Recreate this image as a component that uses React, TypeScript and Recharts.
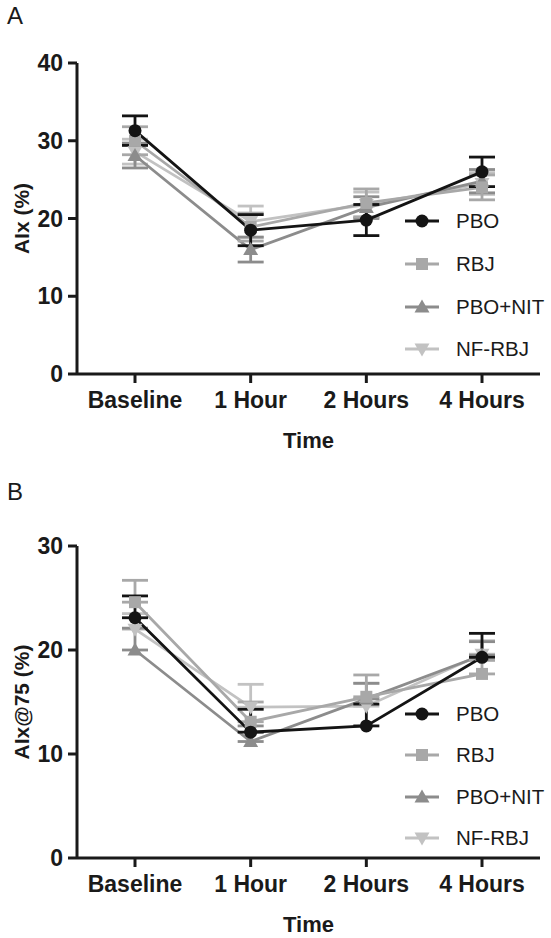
import { ErrorBar, Legend, Line, LineChart, XAxis, YAxis } from "recharts";

const categories = ["Baseline", "1 Hour", "2 Hours", "4 Hours"];

// Panel A: AIx (%), mean ± SEM
const pboA = [31.3, 18.5, 19.8, 26.0];
const pboAErr = [1.9, 2.0, 2.0, 1.9];
const rbjA = [30.0, 18.9, 22.0, 24.0];
const rbjAErr = [1.8, 1.8, 1.8, 1.6];
const pboNitA = [28.1, 16.0, 21.4, 24.8];
const pboNitAErr = [1.6, 1.6, 1.4, 1.5];
const nfRbjA = [28.6, 19.6, 21.8, 24.5];
const nfRbjAErr = [1.6, 2.0, 1.6, 1.4];
const ticksA = [0, 10, 20, 30, 40];

// Panel B: AIx@75 (%), mean + SEM (upper bar only)
const pboB = [23.1, 12.1, 12.7, 19.3];
const pboBErr = [2.1, 2.2, 2.1, 2.3];
const rbjB = [24.6, 13.1, 15.5, 17.7];
const rbjBErr = [2.1, 1.9, 2.1, 1.3];
const pboNitB = [20.0, 11.2, 15.3, 19.5];
const pboNitBErr = [2.1, 1.5, 1.5, 1.3];
const nfRbjB = [22.0, 14.5, 14.6, 19.6];
const nfRbjBErr = [1.5, 2.2, 2.2, 1.3];
const ticksB = [0, 10, 20, 30];

type Shape = "circle" | "square" | "up" | "down";

const seriesList: Array<{ key: string; name: string; color: string; shape: Shape }> = [
  { key: "pbo", name: "PBO", color: "#141414", shape: "circle" },
  { key: "rbj", name: "RBJ", color: "#a8a8a8", shape: "square" },
  { key: "pboNit", name: "PBO+NIT", color: "#8c8c8c", shape: "up" },
  { key: "nfRbj", name: "NF-RBJ", color: "#c2c2c2", shape: "down" }
];

// grey series first so the black PBO line sits on top
const drawOrder = ["nfRbj", "pboNit", "rbj", "pbo"];

const INK = "#1a1a1a";
const FONT = '"Liberation Sans", Arial, Helvetica, sans-serif';

type Row = Record<string, string | number | number[]>;

function buildRows(values: number[][], errors: number[][], upOnly: boolean): Row[] {
  return categories.map((time, i) => {
    const row: Row = { time };
    seriesList.forEach((s, idx) => {
      row[s.key] = values[idx][i];
      row[`${s.key}Err`] = upOnly ? [0, errors[idx][i]] : errors[idx][i];
    });
    return row;
  });
}

const rowsA = buildRows([pboA, rbjA, pboNitA, nfRbjA], [pboAErr, rbjAErr, pboNitAErr, nfRbjAErr], false);
const rowsB = buildRows([pboB, rbjB, pboNitB, nfRbjB], [pboBErr, rbjBErr, pboNitBErr, nfRbjBErr], true);

function Marker({ shape, cx, cy, color }: { shape: Shape; cx: number; cy: number; color: string }) {
  if (cx == null || cy == null) return null;
  if (shape === "circle") return <circle cx={cx} cy={cy} r={6.5} fill={color} />;
  if (shape === "square") return <rect x={cx - 6} y={cy - 6} width={12} height={12} fill={color} />;
  if (shape === "up") {
    return <polygon points={`${cx},${cy - 7.5} ${cx + 7.5},${cy + 5.5} ${cx - 7.5},${cy + 5.5}`} fill={color} />;
  }
  return <polygon points={`${cx},${cy + 7.5} ${cx + 7.5},${cy - 5.5} ${cx - 7.5},${cy - 5.5}`} fill={color} />;
}

function SeriesLegend({ rowHeight }: { rowHeight: number }) {
  return (
    <div>
      {seriesList.map((s) => (
        <div key={s.key} style={{ display: "flex", alignItems: "center", height: rowHeight }}>
          <svg width={34} height={20}>
            <line x1={0} y1={10} x2={34} y2={10} stroke={s.color} strokeWidth={2.8} />
            <Marker shape={s.shape} cx={17} cy={10} color={s.color} />
          </svg>
          <span style={{ marginLeft: 17, fontSize: 20.5, color: INK, fontFamily: FONT }}>{s.name}</span>
        </div>
      ))}
    </div>
  );
}

type PanelProps = {
  letter: string;
  top: number;
  height: number;
  plotTop: number;
  axisHeight: number;
  rows: Row[];
  ticks: number[];
  yLabel: string;
  legendTop: number;
  legendRow: number;
};

function Panel({ letter, top, height, plotTop, axisHeight, rows, ticks, yLabel, legendTop, legendRow }: PanelProps) {
  const axisStyle = { stroke: INK, strokeWidth: 3 };
  return (
    <div style={{ position: "absolute", left: 0, top, width: 551, height }}>
      <div style={{ position: "absolute", left: 7, top: 4, fontSize: 24, lineHeight: "24px", color: INK }}>{letter}</div>
      <LineChart width={551} height={height} data={rows} margin={{ top: plotTop, right: 11, bottom: 0, left: 0 }}>
        <XAxis
          dataKey="time"
          height={axisHeight}
          padding={{ left: 58, right: 58 }}
          axisLine={axisStyle}
          tickLine={axisStyle}
          tickSize={9}
          tickMargin={9}
          tick={{ fill: INK, fontSize: 23, fontWeight: 700 }}
          label={{
            content: (props: any) => {
              const vb = props.viewBox || {};
              return (
                <text x={vb.x + vb.width / 2} y={vb.y + 74} textAnchor="middle" fill={INK} fontSize={22} fontWeight={700}>
                  Time
                </text>
              );
            }
          }}
        />
        <YAxis
          width={77}
          domain={[ticks[0], ticks[ticks.length - 1]]}
          ticks={ticks}
          interval={0}
          axisLine={axisStyle}
          tickLine={axisStyle}
          tickSize={9}
          tickMargin={5}
          tick={{ fill: INK, fontSize: 23, fontWeight: 700 }}
          label={{
            content: (props: any) => {
              const vb = props.viewBox || {};
              const x = vb.x + 29;
              const y = vb.y + vb.height / 2;
              return (
                <text x={x} y={y} transform={`rotate(-90 ${x} ${y})`} textAnchor="middle" fill={INK} fontSize={21} fontWeight={700}>
                  {yLabel}
                </text>
              );
            }
          }}
        />
        <Legend
          layout="vertical"
          align="center"
          verticalAlign="middle"
          wrapperStyle={{ left: 405, top: legendTop, width: 146 }}
          content={() => <SeriesLegend rowHeight={legendRow} />}
        />
        {drawOrder.map((key) => {
          const s = seriesList.find((item) => item.key === key)!;
          return (
            <Line
              key={s.key}
              dataKey={s.key}
              name={s.name}
              type="linear"
              stroke={s.color}
              strokeWidth={2.8}
              isAnimationActive={false}
              activeDot={false}
              dot={(p: any) => <Marker key={`${s.key}-${p.index}`} shape={s.shape} cx={p.cx} cy={p.cy} color={s.color} />}
            >
              <ErrorBar dataKey={`${s.key}Err`} direction="y" width={13} strokeWidth={2.8} stroke={s.color} />
            </Line>
          );
        })}
      </LineChart>
    </div>
  );
}

export default function App() {
  return (
    <div style={{ position: "absolute", left: 0, top: 0, width: 551, height: 938, background: "#fff", fontFamily: FONT }}>
      <Panel letter="A" top={0} height={470} plotTop={63} axisHeight={96} rows={rowsA} ticks={ticksA} yLabel="AIx (%)" legendTop={200} legendRow={42.7} />
      <Panel letter="B" top={476} height={462} plotTop={70} axisHeight={80} rows={rowsB} ticks={ticksB} yLabel="AIx@75 (%)" legendTop={217} legendRow={41.5} />
    </div>
  );
}
